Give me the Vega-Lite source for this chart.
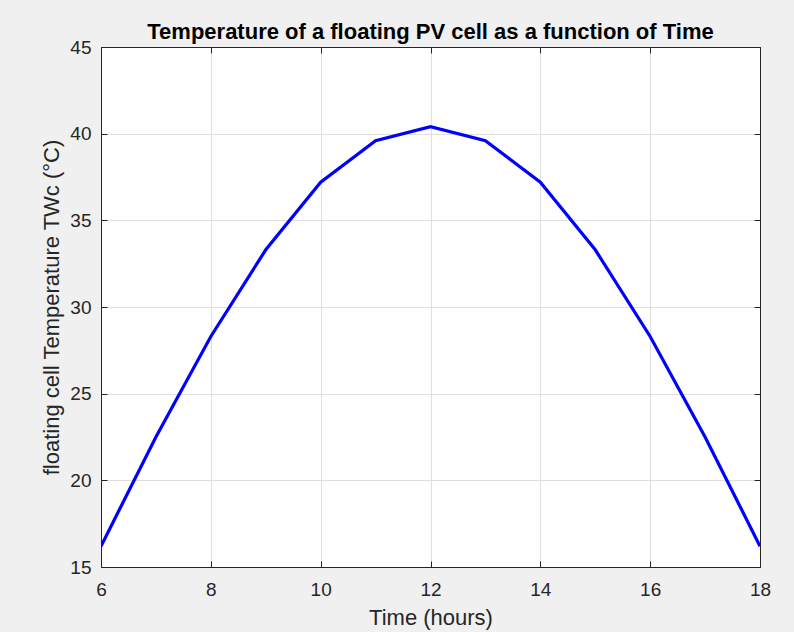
{
  "$schema": "https://vega.github.io/schema/vega-lite/v6.json",
  "autosize": {"type": "none"},
  "width": 659,
  "height": 520,
  "padding": {"left": 101, "top": 47, "right": 34, "bottom": 65},
  "background": "#f0f0f0",
  "config": {
    "font": "Liberation Sans",
    "view": {"fill": "white", "stroke": "#262626", "strokeWidth": 1},
    "axis": {
      "domainColor": "#262626",
      "tickColor": "#262626",
      "labelColor": "#262626",
      "titleColor": "#262626",
      "gridColor": "#dfdfdf",
      "gridWidth": 1,
      "labelFont": "Liberation Sans",
      "titleFont": "Liberation Sans",
      "labelFontSize": 19,
      "titleFontSize": 22,
      "titleFontWeight": "normal",
      "tickSize": -6
    }
  },
  "title": {
    "text": "Temperature of a floating PV cell as a function of Time",
    "font": "Liberation Sans",
    "fontSize": 22,
    "fontWeight": "bold",
    "color": "#000000",
    "anchor": "middle",
    "offset": -6
  },
  "data": {
    "values": [
      {"t": 6, "T": 16.2},
      {"t": 7, "T": 22.5},
      {"t": 8, "T": 28.3},
      {"t": 9, "T": 33.3},
      {"t": 10, "T": 37.2},
      {"t": 11, "T": 39.6},
      {"t": 12, "T": 40.4},
      {"t": 13, "T": 39.6},
      {"t": 14, "T": 37.2},
      {"t": 15, "T": 33.3},
      {"t": 16, "T": 28.3},
      {"t": 17, "T": 22.5},
      {"t": 18, "T": 16.2}
    ]
  },
  "layer": [
    {
      "mark": {"type": "line", "color": "#0000ff", "strokeWidth": 3.2, "clip": true},
      "encoding": {
        "x": {
          "field": "t", "type": "quantitative",
          "scale": {"domain": [6, 18], "nice": false, "zero": false},
          "axis": {"orient": "bottom", "values": [6, 8, 10, 12, 14, 16, 18], "title": "Time (hours)", "labelPadding": 19, "titlePadding": 8, "labelFlush": false}
        },
        "y": {
          "field": "T", "type": "quantitative",
          "scale": {"domain": [15, 45], "nice": false, "zero": false},
          "axis": {"orient": "left", "values": [15, 20, 25, 30, 35, 40, 45], "title": "floating cell Temperature TWc (°C)", "labelPadding": 16, "titlePadding": 6, "labelFlush": false}
        }
      }
    },
    {
      "mark": {"type": "line", "opacity": 0},
      "encoding": {
        "x": {
          "field": "t", "type": "quantitative",
          "scale": {"domain": [6, 18], "nice": false, "zero": false},
          "axis": {"orient": "top", "values": [6, 8, 10, 12, 14, 16, 18], "labels": false, "grid": false, "title": null}
        },
        "y": {
          "field": "T", "type": "quantitative",
          "scale": {"domain": [15, 45], "nice": false, "zero": false},
          "axis": {"orient": "right", "values": [15, 20, 25, 30, 35, 40, 45], "labels": false, "grid": false, "title": null}
        }
      }
    }
  ],
  "resolve": {"axis": {"x": "independent", "y": "independent"}}
}
